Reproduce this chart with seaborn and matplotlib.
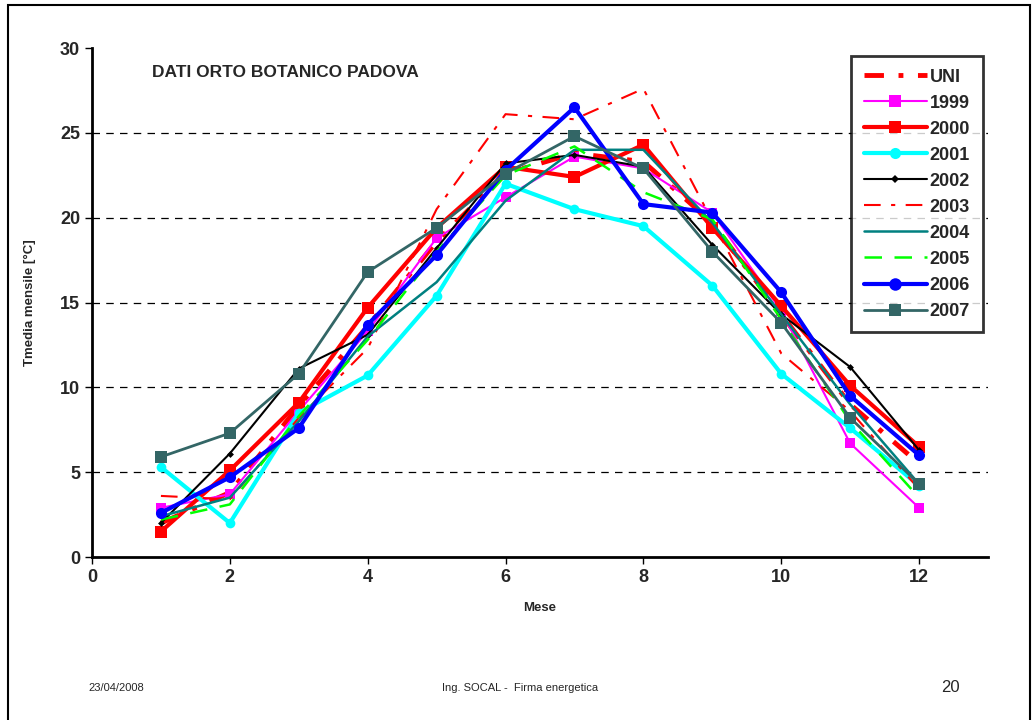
import numpy as np
import pandas as pd
import matplotlib.pyplot as plt
import seaborn as sns
from matplotlib.lines import Line2D
from matplotlib.patches import Rectangle

months = list(range(1, 13))

# Tmedia mensile [°C]
uni = [2.0, 3.8, 8.9, 13.6, 18.6, 22.6, 23.8, 23.3, 19.7, 14.3, 9.0, 5.5]
y1999 = [2.9, 3.7, 8.6, 13.3, 18.8, 21.2, 23.6, 22.9, 20.3, 14.5, 6.7, 2.9]
y2000 = [1.5, 5.1, 9.1, 14.7, 19.4, 23.0, 22.4, 24.3, 19.4, 14.8, 10.1, 6.5]
y2001 = [5.3, 2.0, 8.5, 10.7, 15.4, 22.0, 20.5, 19.5, 16.0, 10.8, 7.6, 4.2]
y2002 = [2.0, 6.1, 11.1, 13.1, 18.2, 23.2, 23.7, 23.0, 18.4, 14.3, 11.2, 6.3]
y2003 = [3.6, 3.4, 8.2, 12.3, 20.5, 26.1, 25.8, 27.6, 19.8, 12.0, 8.6, 4.0]
y2004 = [2.4, 3.5, 8.0, 13.0, 16.2, 21.0, 24.0, 24.0, 19.7, 14.3, 9.0, 4.3]
y2005 = [2.2, 3.1, 8.3, 12.8, 18.0, 22.5, 24.2, 21.5, 19.9, 14.0, 8.0, 3.5]
y2006 = [2.6, 4.7, 7.6, 13.7, 17.8, 22.8, 26.5, 20.8, 20.3, 15.6, 9.5, 6.0]
y2007 = [5.9, 7.3, 10.8, 16.8, 19.4, 22.6, 24.8, 22.9, 18.0, 13.8, 8.2, 4.3]

series = {"UNI": uni, "1999": y1999, "2000": y2000, "2001": y2001,
          "2002": y2002, "2003": y2003, "2004": y2004, "2005": y2005,
          "2006": y2006, "2007": y2007}

styles = {
    "UNI":  dict(color="#ff0000", lw=3.5, dashes=(4, 3, 1, 3), marker=None, ms=0),
    "1999": dict(color="#ff00ff", lw=1.5, dashes=None, marker="s", ms=7),
    "2000": dict(color="#ff0000", lw=3, dashes=None, marker="s", ms=8),
    "2001": dict(color="#00ffff", lw=3, dashes=None, marker="o", ms=7),
    "2002": dict(color="#000000", lw=1.5, dashes=None, marker="D", ms=3.5),
    "2003": dict(color="#ff0000", lw=1.5, dashes=(8, 5, 2, 5), marker=None, ms=0),
    "2004": dict(color="#008080", lw=1.8, dashes=None, marker=None, ms=0),
    "2005": dict(color="#00ff00", lw=1.8, dashes=(7, 5), marker=None, ms=0),
    "2006": dict(color="#0000ff", lw=3, dashes=None, marker="o", ms=8),
    "2007": dict(color="#336666", lw=2, dashes=None, marker="s", ms=8),
}

sns.set_style("white")
plt.rcParams["font.family"] = ["Liberation Sans", "DejaVu Sans"]

fig = plt.figure(figsize=(10.35, 7.2), dpi=100)
ax = fig.add_axes([92 / 1035, 1 - 557 / 720, (988 - 92) / 1035, (557 - 48) / 720])

handles = []
for name, vals in series.items():
    st = styles[name]
    df = pd.DataFrame({"Mese": months, "T": vals})
    sns.lineplot(data=df, x="Mese", y="T", ax=ax, color=st["color"], lw=st["lw"],
                 marker=st["marker"], markersize=st["ms"], markeredgewidth=0,
                 legend=False)
    line = ax.lines[-1]
    if st["dashes"] is not None:
        line.set_dashes(st["dashes"])
    h = Line2D([], [], color=st["color"], lw=st["lw"], marker=st["marker"],
               markersize=st["ms"] + (1 if st["ms"] else 0), markeredgewidth=0)
    if st["dashes"] is not None:
        h.set_dashes(st["dashes"])
    handles.append(h)

ax.set_xlim(0, 13)
ax.set_ylim(0, 30)
ax.set_xticks(range(0, 13, 2))
ax.set_yticks(range(0, 31, 5))
for v in range(5, 30, 5):
    ax.axhline(v, color="black", lw=0.9, dashes=(6, 5), zorder=0)

for s in ["left", "bottom"]:
    ax.spines[s].set_linewidth(2)
    ax.spines[s].set_color("black")
for s in ["top", "right"]:
    ax.spines[s].set_visible(False)

ax.tick_params(axis="both", direction="out", length=5, width=1, labelsize=13,
               left=True, bottom=True, color="black")
for lab in ax.get_xticklabels() + ax.get_yticklabels():
    lab.set_fontweight("bold")

ax.set_xlabel("Mese", fontsize=9.5, fontweight="bold", labelpad=12)
ax.set_ylabel("Tmedia mensile [°C]", fontsize=9.5, fontweight="bold", labelpad=17)

ax.text(0.067, 0.952, "DATI ORTO BOTANICO PADOVA", transform=ax.transAxes,
        fontsize=12.5, fontweight="bold", ha="left", va="center")

leg = ax.legend(handles, list(series.keys()), loc="upper right",
                bbox_to_anchor=(1.0, 0.995), frameon=True, fancybox=False,
                prop={"weight": "bold", "size": 13}, handlelength=3.5,
                handletextpad=0.15, labelspacing=0.5, borderpad=0.7,
                borderaxespad=0.3)
leg.get_frame().set_edgecolor("black")
leg.get_frame().set_linewidth(2)

fig.text(88 / 1035, 1 - 688 / 720, "23/04/2008", fontsize=8, ha="left", va="center")
fig.text(520 / 1035, 1 - 688 / 720, "Ing. SOCAL -  Firma energetica", fontsize=8,
         ha="center", va="center")
fig.text(950 / 1035, 1 - 688 / 720, "20", fontsize=12, ha="center", va="center")

fig.patches.append(Rectangle((8 / 1035, -0.01), (1030 - 8) / 1035, 1 - 5 / 720 + 0.01,
                             transform=fig.transFigure, fill=False,
                             edgecolor="black", lw=1.5))

fig.savefig("out.png", dpi=100)
